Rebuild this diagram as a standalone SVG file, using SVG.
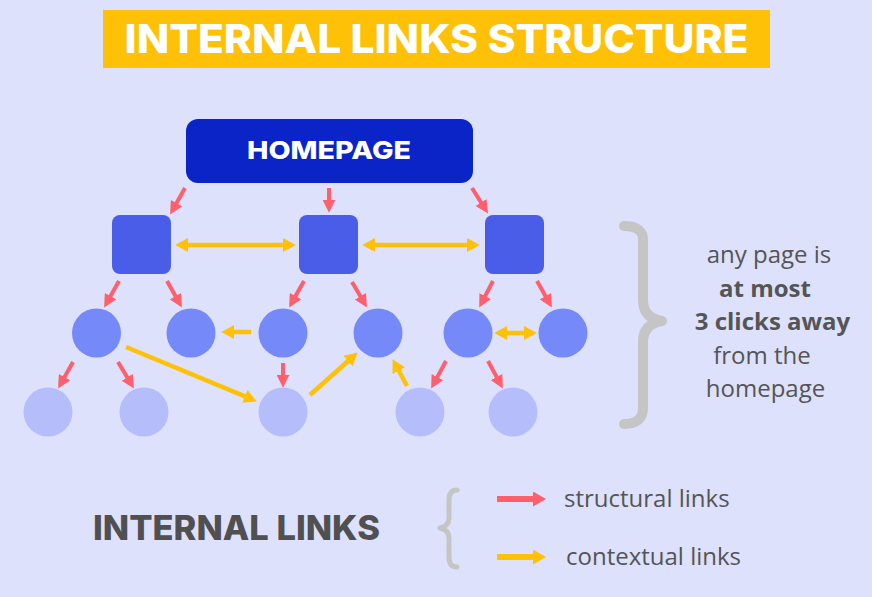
<svg xmlns="http://www.w3.org/2000/svg" width="872" height="597" viewBox="0 0 872 597">
<defs>
<style>
.bg{fill:#DEE1FB}
.red{stroke:#FF5F6D;stroke-width:4;fill:none;marker-end:url(#ah-red)}
.yel{stroke:#FFC107;stroke-width:4.5;fill:none;marker-end:url(#ah-yel)}
.dbl{marker-start:url(#ah-yel)}
.sq{fill:#4A5DE8}
.l2{fill:#7689F8}
.l3{fill:#B5BEFB}
.brace{fill:none;stroke:#C5C5C5;stroke-linecap:round;stroke-linejoin:round}
.head{font-family:Inter,"Noto Sans",sans-serif;font-weight:800;text-anchor:middle}
.note{font-family:"Open Sans","Noto Sans",sans-serif;font-size:24px;fill:#555555;text-anchor:middle}
.leg{font-family:"Open Sans","Noto Sans",sans-serif;font-size:24px;fill:#555555}
</style>
<marker id="ah-red" markerUnits="userSpaceOnUse" markerWidth="13" markerHeight="13" refX="3" refY="6" orient="auto-start-reverse" viewBox="0 0 12 12">
<path d="M0,0 L12,6 L0,12 z" fill="#FF5F6D"/>
</marker>
<marker id="ah-yel" markerUnits="userSpaceOnUse" markerWidth="14" markerHeight="14" refX="2" refY="6.5" orient="auto-start-reverse" viewBox="0 0 13 13">
<path d="M0,0 L12,6.5 L0,13 z" fill="#FFC107"/>
</marker>
<marker id="ah-leg-red" markerUnits="userSpaceOnUse" markerWidth="15" markerHeight="15" refX="2" refY="7.5" orient="auto" viewBox="0 0 15 15">
<path d="M0,0 L13,7.5 L0,15 z" fill="#FF5F6D"/>
</marker>
<marker id="ah-leg-yel" markerUnits="userSpaceOnUse" markerWidth="15" markerHeight="15" refX="2" refY="7.5" orient="auto" viewBox="0 0 15 15">
<path d="M0,0 L13,7.5 L0,15 z" fill="#FFC107"/>
</marker>
</defs>
<rect class="bg" x="0" y="0" width="872" height="597"/>

<g id="title">
<rect x="103" y="10" width="667" height="58" fill="#FFC107"/>
<text class="head" x="436.5" y="53" font-size="39" fill="#FFFFFF" textLength="624" lengthAdjust="spacingAndGlyphs">INTERNAL LINKS STRUCTURE</text>
</g>

<g id="homepage">
<rect x="186" y="119" width="287" height="64" rx="12" fill="#0A24C8"/>
<text class="head" x="329" y="159" font-size="25" fill="#FFFFFF" textLength="164" lengthAdjust="spacingAndGlyphs">HOMEPAGE</text>
</g>

<g id="cat-left"><rect class="sq" x="112" y="215" width="59" height="59" rx="8"/></g>
<g id="cat-mid"><rect class="sq" x="299" y="215" width="59" height="59" rx="8"/></g>
<g id="cat-right"><rect class="sq" x="485" y="215" width="59" height="59" rx="8"/></g>

<g id="p1"><circle class="l2" cx="96.5" cy="333" r="24.5"/></g>
<g id="p2"><circle class="l2" cx="191" cy="333" r="24.5"/></g>
<g id="p3"><circle class="l2" cx="283" cy="333" r="24.5"/></g>
<g id="p4"><circle class="l2" cx="378" cy="333" r="24.5"/></g>
<g id="p5"><circle class="l2" cx="468" cy="333" r="24.5"/></g>
<g id="p6"><circle class="l2" cx="563" cy="333" r="24.5"/></g>

<g id="s1"><circle class="l3" cx="48" cy="412" r="24.5"/></g>
<g id="s2"><circle class="l3" cx="144" cy="412" r="24.5"/></g>
<g id="s3"><circle class="l3" cx="283" cy="412" r="24.5"/></g>
<g id="s4"><circle class="l3" cx="420" cy="412" r="24.5"/></g>
<g id="s5"><circle class="l3" cx="513" cy="412" r="24.5"/></g>

<g id="connectors">
<line class="red" x1="185" y1="188" x2="174.9" y2="206"/>
<line class="red" x1="329" y1="188" x2="329" y2="203"/>
<line class="red" x1="472" y1="188" x2="482.8" y2="205.2"/>
<line class="red" x1="119" y1="281" x2="108.9" y2="299"/>
<line class="red" x1="167" y1="281" x2="177.1" y2="299"/>
<line class="red" x1="304" y1="281" x2="293.9" y2="299"/>
<line class="red" x1="352" y1="282" x2="362" y2="299.1"/>
<line class="red" x1="493" y1="281" x2="483.7" y2="298.9"/>
<line class="red" x1="537" y1="281" x2="547.1" y2="299"/>
<line class="red" x1="73" y1="362" x2="62.9" y2="380"/>
<line class="red" x1="118" y1="362" x2="128.9" y2="380.1"/>
<line class="red" x1="283" y1="363" x2="283" y2="378"/>
<line class="red" x1="446" y1="361" x2="435.8" y2="379.9"/>
<line class="red" x1="488" y1="361" x2="498.2" y2="379.9"/>

<line class="yel dbl" x1="186" y1="245" x2="285" y2="245"/>
<line class="yel dbl" x1="373" y1="245" x2="469" y2="245"/>
<line class="yel" x1="251" y1="332" x2="232" y2="332"/>
<line class="yel" x1="126" y1="347" x2="246.8" y2="397.2"/>
<line class="yel" x1="310" y1="395" x2="349.5" y2="359.7"/>
<line class="yel" x1="407" y1="386" x2="397.7" y2="368.8"/>
<line class="yel dbl" x1="505" y1="333" x2="526" y2="333"/>
</g>

<g id="reach-note">
<path class="brace" stroke-width="10" d="M624,226 Q643,226 643,240 L643,300 Q643,318 662,321 Q643,324 643,342 L643,408 Q643,424 624,424"/>
<text class="note" x="769" y="263">any page is</text>
<text class="note" x="765" y="297" font-weight="700">at most</text>
<text class="note" x="772.5" y="330" font-weight="700">3 clicks away</text>
<text class="note" x="762" y="364">from the</text>
<text class="note" x="765.5" y="397">homepage</text>
</g>

<g id="legend">
<text class="head" x="236.5" y="540" font-size="34" fill="#505050" textLength="287" lengthAdjust="spacingAndGlyphs">INTERNAL LINKS</text>
<path class="brace" stroke-width="5" d="M457,490 Q449,490 449,500 L449,518 Q449,526 440,528 Q449,530 449,538 L449,557 Q449,567 457,567"/>
<line stroke="#FF5F6D" stroke-width="6" marker-end="url(#ah-leg-red)" x1="497" y1="499" x2="535" y2="499"/>
<line stroke="#FFC107" stroke-width="6" marker-end="url(#ah-leg-yel)" x1="497" y1="557" x2="535" y2="557"/>
<text class="leg" x="564" y="507">structural links</text>
<text class="leg" x="566" y="565">contextual links</text>
</g>
</svg>
